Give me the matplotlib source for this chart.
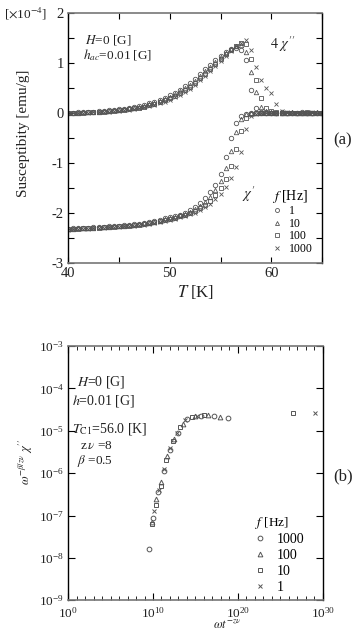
import numpy as np
import matplotlib
matplotlib.use("Agg")
import matplotlib.pyplot as plt
from matplotlib.ticker import FixedLocator, NullFormatter, LogFormatterMathtext

plt.rcParams['font.family'] = ['Liberation Serif', 'DejaVu Serif']
plt.rcParams['mathtext.fontset'] = 'stix'

# ---------------- data, panel (a) ----------------
freqs_a = ["1", "10", "100", "1000"]
T_a = [40.0, 40.5, 41.0, 41.5, 42.0, 42.5, 43.0, 43.5, 44.0, 44.5,
       45.0, 45.5, 46.0, 46.5, 47.0, 47.5, 48.0, 48.5, 49.0, 49.5,
       50.0, 50.5, 51.0, 51.5, 52.0, 52.5, 53.0, 53.5, 54.0, 54.5,
       55.0, 55.5, 56.0, 56.5, 57.0, 57.5, 58.0, 58.5, 59.0, 59.5,
       60.0, 60.5, 61.0, 61.5, 62.0, 62.5, 63.0, 63.5, 64.0, 64.5, 65.0]

chi_re_1 = [-2.31, -2.30, -2.30, -2.29, -2.29, -2.28, -2.28, -2.27, -2.26, -2.26,
            -2.25, -2.24, -2.23, -2.22, -2.21, -2.19, -2.17, -2.15, -2.13, -2.10,
            -2.07, -2.05, -2.03, -1.99, -1.94, -1.88, -1.80, -1.70, -1.58, -1.44,
            -1.22, -0.88, -0.50, -0.20, -0.06, -0.02, -0.01, 0.00, 0.00, -0.01,
            0.00, 0.00, -0.01, 0.00, 0.00, -0.01, 0.00, 0.00, -0.01, 0.00, 0.00]
chi_re_10 = [-2.31, -2.31, -2.30, -2.30, -2.29, -2.29, -2.28, -2.27, -2.27, -2.26,
             -2.25, -2.25, -2.24, -2.23, -2.22, -2.20, -2.19, -2.17, -2.15, -2.12,
             -2.10, -2.07, -2.04, -2.01, -1.97, -1.92, -1.85, -1.77, -1.67, -1.54,
             -1.36, -1.10, -0.75, -0.38, -0.12, -0.03, -0.01, 0.00, 0.00, 0.00,
             -0.01, 0.00, 0.00, -0.01, 0.00, 0.00, 0.00, -0.01, 0.00, 0.00, 0.00]
chi_re_100 = [-2.32, -2.31, -2.31, -2.30, -2.30, -2.29, -2.29, -2.28, -2.27, -2.27,
              -2.26, -2.25, -2.25, -2.24, -2.23, -2.21, -2.20, -2.18, -2.16, -2.14,
              -2.12, -2.09, -2.06, -2.03, -2.00, -1.96, -1.90, -1.83, -1.75, -1.64,
              -1.50, -1.32, -1.06, -0.72, -0.35, -0.10, -0.02, 0.00, 0.00, -0.01,
              0.00, 0.00, 0.00, 0.00, -0.01, 0.00, 0.00, 0.00, 0.00, -0.01, 0.00]
chi_re_1000 = [-2.33, -2.32, -2.32, -2.31, -2.31, -2.30, -2.30, -2.29, -2.28, -2.28,
               -2.27, -2.26, -2.26, -2.25, -2.24, -2.23, -2.21, -2.20, -2.18, -2.16,
               -2.14, -2.11, -2.08, -2.05, -2.02, -1.99, -1.94, -1.88, -1.81, -1.72,
               -1.62, -1.48, -1.30, -1.08, -0.78, -0.32, -0.07, -0.02, 0.00, 0.00,
               -0.01, 0.00, 0.00, 0.00, 0.00, 0.00, -0.01, 0.00, 0.00, 0.00, 0.00]

chi_im4_1 = [0.00, 0.00, 0.01, 0.01, 0.02, 0.02, 0.03, 0.04, 0.05, 0.06,
             0.07, 0.08, 0.10, 0.11, 0.13, 0.16, 0.19, 0.22, 0.26, 0.30,
             0.35, 0.40, 0.46, 0.53, 0.60, 0.68, 0.77, 0.87, 0.96, 1.05,
             1.14, 1.22, 1.28, 1.30, 1.25, 1.05, 0.45, 0.10, 0.02, 0.00,
             0.00, 0.00, 0.01, 0.00, 0.00, 0.00, 0.01, 0.00, 0.00, 0.00, 0.00]
chi_im4_10 = [0.00, 0.00, 0.00, 0.01, 0.01, 0.02, 0.02, 0.03, 0.04, 0.05,
              0.06, 0.07, 0.09, 0.10, 0.12, 0.14, 0.17, 0.20, 0.24, 0.28,
              0.32, 0.37, 0.43, 0.49, 0.56, 0.64, 0.73, 0.83, 0.92, 1.02,
              1.11, 1.20, 1.28, 1.34, 1.35, 1.22, 0.82, 0.42, 0.12, 0.03,
              0.01, 0.00, 0.00, 0.00, 0.01, 0.00, 0.00, 0.00, 0.00, 0.01, 0.00]
chi_im4_100 = [0.00, 0.00, 0.00, 0.00, 0.01, 0.01, 0.02, 0.02, 0.03, 0.04,
               0.05, 0.06, 0.07, 0.09, 0.10, 0.12, 0.15, 0.18, 0.21, 0.25,
               0.29, 0.34, 0.39, 0.45, 0.52, 0.60, 0.69, 0.78, 0.88, 0.98,
               1.08, 1.17, 1.26, 1.34, 1.39, 1.37, 1.08, 0.66, 0.30, 0.10,
               0.03, 0.01, 0.00, 0.00, 0.00, 0.00, 0.00, 0.01, 0.00, 0.00, 0.00]
chi_im4_1000 = [0.00, 0.00, 0.00, 0.00, 0.00, 0.01, 0.01, 0.02, 0.02, 0.03,
                0.04, 0.05, 0.06, 0.07, 0.09, 0.11, 0.13, 0.16, 0.19, 0.22,
                0.26, 0.31, 0.36, 0.42, 0.48, 0.56, 0.65, 0.74, 0.84, 0.94,
                1.04, 1.14, 1.24, 1.33, 1.40, 1.45, 1.25, 0.92, 0.66, 0.50,
                0.40, 0.18, 0.04, 0.01, 0.00, 0.00, 0.00, 0.00, 0.01, 0.00, 0.00]

# ---------------- data, panel (b) ----------------
freqs_b = ["1000", "100", "10", "1"]
log_x_1000 = [9.5, 10.0, 10.6, 11.3, 12.0, 12.9, 14.0, 15.6, 17.2, 18.8]
log_y_1000 = [-7.80, -7.05, -6.45, -5.95, -5.45, -5.05, -4.72, -4.64, -4.66, -4.71]
log_x_100 = [9.9, 10.4, 11.0, 11.7, 12.5, 13.5, 15.0, 16.5, 17.9]
log_y_100 = [-7.15, -6.60, -6.20, -5.60, -5.20, -4.85, -4.66, -4.63, -4.68]
log_x_10 = [9.85, 10.3, 10.9, 11.5, 12.3, 13.2, 14.6, 16.0, 26.5]
log_y_10 = [-7.20, -6.75, -6.30, -5.70, -5.25, -4.90, -4.68, -4.63, -4.57]
log_x_1 = [10.1, 10.7, 11.3, 12.0, 12.8, 13.8, 15.2, 29.1]
log_y_1 = [-6.90, -6.40, -5.90, -5.40, -5.05, -4.75, -4.65, -4.57]

# ---------------- figure ----------------
fig = plt.figure(figsize=(3.6, 6.42), dpi=100)
mc = '#555555'
txt = '#222222'

axa = fig.add_axes([0.189, 0.590, 0.706, 0.390])
markers_a = ['o', '^', 's', 'x']
re_list = [chi_re_1, chi_re_10, chi_re_100, chi_re_1000]
im_list = [chi_im4_1, chi_im4_10, chi_im4_100, chi_im4_1000]
handles = []
for f, m, re, im in zip(freqs_a, markers_a, re_list, im_list):
    h, = axa.plot(T_a, re, linestyle='none', marker=m, ms=3.2, mfc='none',
                  mec=mc, mew=0.6, label=f)
    axa.plot(T_a, im, linestyle='none', marker=m, ms=3.2, mfc='none',
             mec=mc, mew=0.6)
    handles.append(h)

axa.set_xlim(40, 65)
axa.set_ylim(-3, 2)
axa.set_xticks([40, 45, 50, 55, 60, 65])
axa.set_xticklabels(['40', '', '50', '', '60', ''])
axa.set_yticks([-3, -2.5, -2, -1.5, -1, -0.5, 0, 0.5, 1, 1.5, 2])
axa.set_yticklabels(['-3', '', '-2', '', '-1', '', '0', '', '1', '', '2'])
axa.tick_params(direction='in', top=True, right=True, length=4, width=0.8,
                labelsize=10.5, colors='black', labelcolor=txt, pad=3)
for s in ['top', 'bottom']:
    axa.spines[s].set_color('#777777')
    axa.spines[s].set_linewidth(1.2)
for s in ['left', 'right']:
    axa.spines[s].set_linewidth(1.0)

axa.text(41.7, 1.45, r'$H$=0 [G]', fontsize=9.5, color=txt, va='center')
axa.text(41.5, 1.16, r'$h_{ac}$=0.01 [G]', fontsize=9.5, color=txt, va='center')
axa.text(59.9, 1.37, r'$4\ \chi^{\prime\prime}$', fontsize=10.5, color=txt, va='center')
axa.text(57.1, -1.62, r"$\chi^{\prime}$", fontsize=10.5, color=txt, va='center')
axa.set_xlabel(r'$T$ [K]', fontsize=12, color=txt, labelpad=2)
leg = axa.legend(handles=handles, title=r'$f$ [Hz]', loc='upper left',
                 bbox_to_anchor=(0.775, 0.33), frameon=False, fontsize=8.5,
                 title_fontsize=10, handlelength=0.8, handletextpad=0.6,
                 labelspacing=0.05, borderpad=0.1, alignment='left',
                 markerscale=0.9)

fig.text(26 / 360, 1 - 14 / 642, r'[$\times$10$^{-4}$]', fontsize=9.5,
         color=txt, ha='center', va='center')
fig.text(24 / 360, 1 - 133 / 642, 'Susceptibity [emu/g]', fontsize=11,
         color=txt, ha='center', va='center', rotation=90)
fig.text(343 / 360, 1 - 140 / 642, '(a)', fontsize=12, color=txt,
         ha='center', va='center')

# ---------------- panel (b) ----------------
axb = fig.add_axes([0.189, 0.065, 0.708, 0.396])
markers_b = ['o', '^', 's', 'x']
xs_b = [log_x_1000, log_x_100, log_x_10, log_x_1]
ys_b = [log_y_1000, log_y_100, log_y_10, log_y_1]
handles_b = []
for f, m, lx, ly in zip(freqs_b, markers_b, xs_b, ys_b):
    h, = axb.plot(10.0 ** np.array(lx), 10.0 ** np.array(ly), linestyle='none',
                  marker=m, ms=3.4, mfc='none', mec=mc, mew=0.7, label=f)
    handles_b.append(h)
axb.set_xscale('log')
axb.set_yscale('log')
axb.set_xlim(1e0, 1e30)
axb.set_ylim(1e-9, 1e-3)
axb.xaxis.set_major_locator(FixedLocator([1e0, 1e10, 1e20, 1e30]))
axb.xaxis.set_minor_locator(FixedLocator([10.0 ** i for i in range(31)]))
axb.xaxis.set_major_formatter(LogFormatterMathtext())
axb.xaxis.set_minor_formatter(NullFormatter())
axb.yaxis.set_major_locator(FixedLocator([10.0 ** i for i in range(-9, -2)]))
axb.yaxis.set_minor_locator(FixedLocator([]))
axb.yaxis.set_major_formatter(LogFormatterMathtext())
axb.tick_params(which='both', direction='in', top=True, right=True,
                labelsize=9.5, labelcolor=txt)
axb.tick_params(axis='x', pad=4)
axb.tick_params(axis='y', pad=3)
axb.tick_params(which='major', length=5, width=0.8)
axb.tick_params(which='minor', length=3, width=0.6)
for s in ['top', 'bottom']:
    axb.spines[s].set_color('#777777')
    axb.spines[s].set_linewidth(1.2)
for s in ['left', 'right']:
    axb.spines[s].set_linewidth(1.0)

axb.text(0.035, 0.857, r'$H$=0 [G]', transform=axb.transAxes, fontsize=10,
         color=txt, va='center')
axb.text(0.015, 0.785, r'$h$=0.01 [G]', transform=axb.transAxes, fontsize=10,
         color=txt, va='center')
axb.text(0.015, 0.674, r'$T_{\rm C1}$=56.0 [K]', transform=axb.transAxes,
         fontsize=10, color=txt, va='center')
axb.text(0.045, 0.605, r'z$\,\nu$ =8', transform=axb.transAxes, fontsize=9.5,
         color=txt, va='center')
axb.text(0.035, 0.548, r'$\beta$ =0.5', transform=axb.transAxes, fontsize=9.5,
         color=txt, va='center')
axb.legend(handles=handles_b, title=r'$f$ [Hz]', loc='upper left',
           bbox_to_anchor=(0.7, 0.37), frameon=False, fontsize=10,
           title_fontsize=9.5, handlelength=0.8, handletextpad=0.8,
           labelspacing=0.2, borderpad=0.1, alignment='left')

fig.text(227 / 360, 1 - 625 / 642, r'$\omega t^{-z\nu}$', fontsize=9,
         color=txt, ha='center', va='center')
fig.text(26 / 360, 1 - 462 / 642, r"$\omega^{-\beta/z\nu}\ \chi^{\prime\prime}$",
         fontsize=9, color=txt, ha='center', va='center', rotation=90)
fig.text(343 / 360, 1 - 476 / 642, '(b)', fontsize=12, color=txt,
         ha='center', va='center')

fig.savefig('out.png', dpi=100)
